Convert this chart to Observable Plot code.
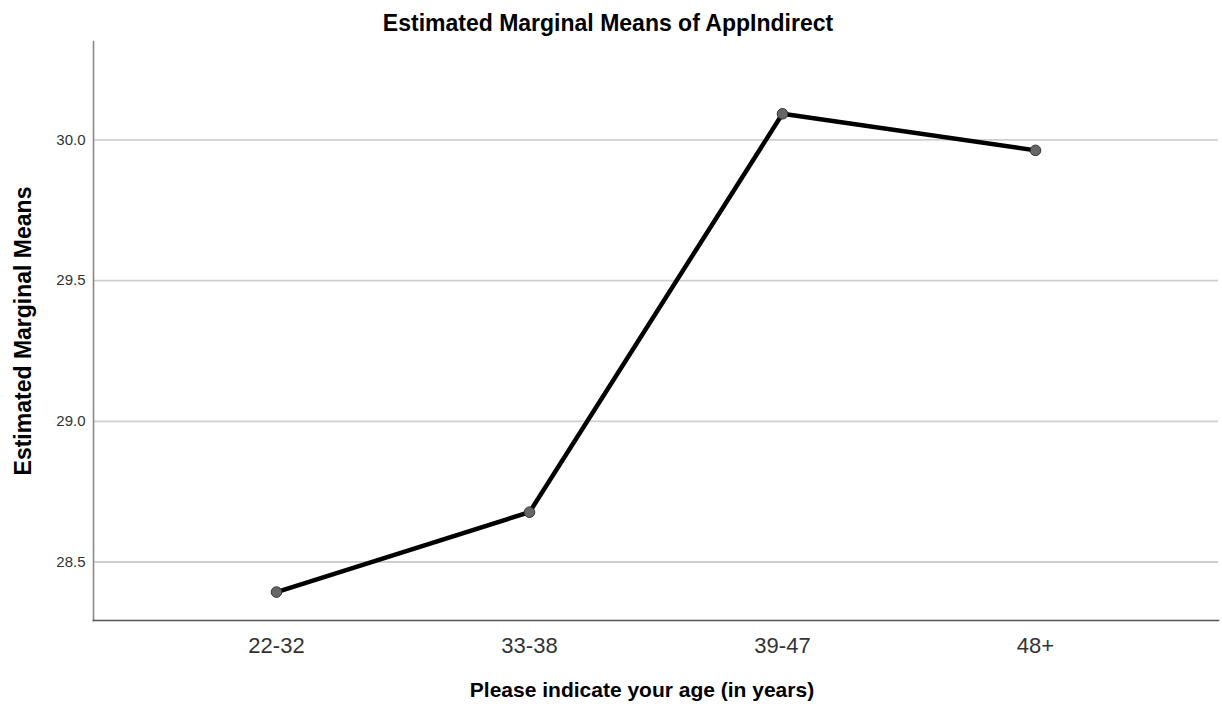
<!DOCTYPE html>
<html>
<head>
<meta charset="utf-8">
<script src="https://cdn.jsdelivr.net/npm/d3@7"></script>
<script src="https://cdn.jsdelivr.net/npm/@observablehq/plot@0.6"></script>
<style>
  html, body { margin: 0; padding: 0; background: #fff; }
  body { width: 1222px; height: 708px; overflow: hidden; font-family: "Liberation Sans", Arial, sans-serif; }
  #title { box-sizing: border-box; height: 36px; padding-top: 10px; padding-right: 6px; line-height: 26px; font-size: 23px; font-weight: bold; text-align: center; color: #000; white-space: nowrap; }
  #xtitle { box-sizing: border-box; height: 40px; padding-top: 10px; padding-left: 62px; line-height: 24px; font-size: 21px; font-weight: bold; text-align: center; color: #000; white-space: nowrap; }
  #chart svg { display: block; }
</style>
</head>
<body>
<div id="title"></div>
<div id="chart"></div>
<div id="xtitle"></div>
<script>
const titleText = "Estimated Marginal Means of AppIndirect";
const xTitle = "Please indicate your age (in years)";
const yTitle = "Estimated Marginal Means";
const ageGroups = ["22-32", "33-38", "39-47", "48+"];
const means = [28.393, 28.677, 30.093, 29.963];
const yTicks = [28.5, 29.0, 29.5, 30.0];
const yDomain = [28.292, 30.35];

const data = ageGroups.map((g, i) => ({age: g, mean: means[i]}));

document.getElementById("title").textContent = titleText;
document.getElementById("xtitle").textContent = xTitle;

const chart = Plot.plot({
  width: 1222,
  height: 632,
  marginTop: 5,
  marginBottom: 48,
  marginLeft: 93,
  marginRight: 4,
  style: {fontFamily: "'Liberation Sans', Arial, sans-serif", background: "#fff", color: "#222"},
  x: {type: "point", domain: ageGroups, padding: 0.72},
  y: {domain: yDomain},
  marks: [
    Plot.ruleY(yTicks, {stroke: "#cfcfcf", strokeWidth: 1.8}),
    Plot.frame({anchor: "left", stroke: "#888", strokeWidth: 1.6}),
    Plot.frame({anchor: "bottom", stroke: "#555", strokeWidth: 1.6}),
    Plot.axisY(yTicks, {tickSize: 0, tickPadding: 8, fontSize: 15, fill: "#333", label: null, tickFormat: d => d.toFixed(1)}),
    Plot.axisX({tickSize: 0, tickPadding: 17, fontSize: 22, fill: "#333", label: null}),
    Plot.text([yTitle], {frameAnchor: "left", textAnchor: "middle", dx: -70, rotate: -90, fontSize: 23, fontWeight: "bold", fill: "#000"}),
    Plot.line(data, {x: "age", y: "mean", stroke: "#000", strokeWidth: 4.5}),
    Plot.dot(data, {x: "age", y: "mean", r: 5.3, fill: "#666", stroke: "#333", strokeWidth: 1})
  ]
});
document.getElementById("chart").appendChild(chart);
</script>
</body>
</html>
